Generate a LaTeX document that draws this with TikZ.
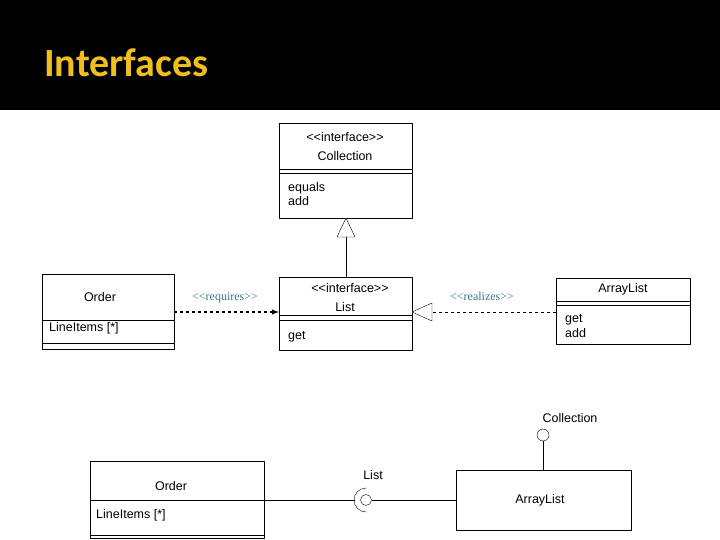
\documentclass[tikz,border=0pt]{standalone}
\usepackage{fontspec}
\setmainfont{Liberation Sans}[Ligatures=NoCommon]
\newfontfamily\titlefont{Carlito}
\newfontfamily\stereofont{Liberation Serif}
\definecolor{titlegold}{RGB}{240,190,30}
\definecolor{stereoteal}{RGB}{50,120,130}
\newcommand{\guil}[1]{{<}{<}#1{>}{>}}
\begin{document}
\begin{tikzpicture}[x=1pt, y=-1pt, line join=round,
    box/.style={draw, line width=0.8pt},
    stereo/.style={text=stereoteal, font=\stereofont\fontsize{12}{12}\selectfont},
    txt/.style={font=\fontsize{12.5}{15}\selectfont, inner sep=0pt}]
    \useasboundingbox (0,0) rectangle (720,540);
    \fill (0,0) rectangle (720,110);
    \draw[white, line width=1pt] (0,113) -- (720,113);
    \node[anchor=base west, inner sep=0pt, text=titlegold, font=\titlefont\bfseries\fontsize{40}{40}\selectfont] (title) at (44,77) {Interfaces};

    % Collection interface
    \draw[box] (279,123) rectangle (412,218);
    \draw (279,169) -- (412,169) (279,173) -- (412,173);
    \node[txt] (colst) at (345,137) {\guil{interface}};
    \node[txt] (colnm) at (345,156) {Collection};
    \node[txt, anchor=west] (colops) at (288,194) {\shortstack[l]{equals\\add}};

    % List interface
    \draw[box] (279,277) rectangle (412,350);
    \draw (279,315) -- (412,315) (279,320) -- (412,320);
    \node[txt] (listst) at (350,288) {\guil{interface}};
    \node[txt] (listnm) at (345,307) {List};
    \node[txt, anchor=west] (listops) at (288,337) {get};
    \coordinate (listtop) at (346,277);
    \coordinate (listright) at (412,312);
    \coordinate (listleft) at (279,312);

    % generalization
    \coordinate (tritip) at (346,218);
    \draw[fill=white] (tritip) -- (337,237) -- (355,237) -- cycle;
    \draw (346,237) -- (listtop);

    % Order (top)
    \draw[box] (42,274) rectangle (174,349);
    \draw (42,320) -- (174,320) (42,343) -- (174,343);
    \node[txt] (ordnm) at (100,297) {Order};
    \node[txt, anchor=west] (ordatt) at (49,328) {LineItems [*]};
    \coordinate (ordright) at (174,312);

    % ArrayList (top)
    \draw[box] (556,278) rectangle (690,344);
    \draw (556,301) -- (690,301) (556,305) -- (690,305);
    \node[txt] (alnm) at (623,289) {ArrayList};
    \node[txt, anchor=west] (alops) at (565,326) {\shortstack[l]{get\\add}};
    \coordinate (alleft) at (556,312);

    % requires / realizes
    \draw[dashed, line width=1.4pt, -latex] (ordright) -- (listleft);
    \node[stereo] (req) at (225,298) {\guil{requires}};
    \draw[dashed] (alleft) -- (432,312);
    \draw[fill=white] (listright) -- (432,303) -- (432,321) -- cycle;
    \node[stereo] (rea) at (482,296) {\guil{realizes}};

    % bottom: Order
    \draw[box] (90,461) rectangle (264,538);
    \draw (90,500) -- (264,500) (90,535) -- (264,535);
    \node[txt] (bordnm) at (171,486) {Order};
    \node[txt, anchor=west] (bordatt) at (96,515) {LineItems [*]};
    \coordinate (bordright) at (264,500);

    % bottom: ArrayList
    \draw[box] (456,470) rectangle (631,530);
    \node[txt] (balnm) at (540,500) {ArrayList};

    % lollipops
    \node[draw, circle, minimum size=12pt, inner sep=0pt] (colball) at (543,435) {};
    \node[txt] (colball lbl) at (570,418) {Collection};
    \draw (colball) -- (543,470);
    \node[draw, circle, minimum size=11pt, inner sep=0pt] (listball) at (366,500) {};
    \node[txt] (listball lbl) at (373,475) {List};
    \draw (listball) -- (456,500);
    \draw (bordright) -- (355,500);
    \draw (366,512) arc[start angle=90, end angle=270, radius=12];
\end{tikzpicture}
\end{document}
